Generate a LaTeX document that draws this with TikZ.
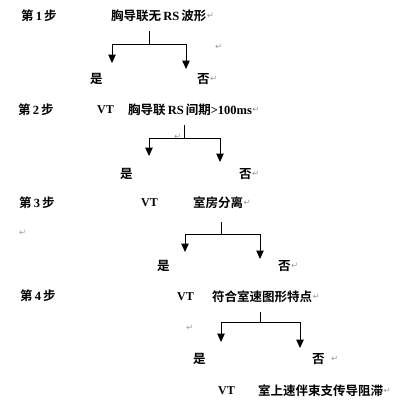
\documentclass[tikz,border=0pt]{standalone}
\usepackage{fontspec}
\setmainfont{Liberation Serif}
\newfontfamily\cjk{Noto Sans CJK SC Bold}
\newfontfamily\sym{DejaVu Sans}
\usetikzlibrary{arrows.meta}
\begin{document}
\begin{tikzpicture}[x=1pt,y=-1pt,
  txt/.style={anchor=west,inner sep=0pt,font=\fontsize{12.5}{15}\selectfont\cjk},
  lat/.style={anchor=west,inner sep=0pt,font=\fontsize{12}{14}\selectfont\bfseries},
  ret/.style={anchor=west,inner sep=0pt,text=black!40,font=\fontsize{8.5}{9}\selectfont\sym},
  line/.style={line width=1pt,black},
  arr/.style={line width=1pt,black,-{Triangle[length=8.5pt,width=7.5pt]}}]
\useasboundingbox (0,0) rectangle (406,405);
% step 1
\node[txt] (s1) at (21,16) {第\,\textrm{\bfseries 1}\,步};
\node[txt] (t1) at (111,16) {胸导联无\,{\rmfamily\bfseries RS}\,波形};
\node[ret] (r1a) at (t1.east) {↵};
\coordinate (a1) at (149,31);
\coordinate (j1) at (149,44);
\coordinate (l1) at (112,44);
\coordinate (rr1) at (186,44);
\coordinate (lt1) at (112,63);
\coordinate (rt1) at (186,69);
\draw[line] (a1) -- (j1);
\draw[line] (l1) -- (rr1);
\draw[arr] (l1) -- (lt1);
\draw[arr] (rr1) -- (rt1);
\node[ret] (r1b) at (215,47) {↵};
\node[txt] (y1) at (90,79) {是};
\node[txt] (n1) at (197,79) {否};
\node[ret] (r1c) at (n1.east) {↵};
% step 2
\node[txt] (s2) at (18,110) {第\,\textrm{\bfseries 2}\,步};
\node[lat] (v2) at (97,110) {VT};
\node[txt] (t2) at (128,110) {胸导联\,{\rmfamily\bfseries RS}\,间期{\rmfamily\bfseries >100ms}};
\node[ret] (r2a) at (t2.east) {↵};
\coordinate (a2) at (184,125);
\coordinate (j2) at (184,138);
\coordinate (l2) at (149,138);
\coordinate (rr2) at (220,138);
\coordinate (lt2) at (149,156);
\coordinate (rt2) at (220,162);
\draw[line] (a2) -- (j2);
\draw[line] (l2) -- (rr2);
\draw[arr] (l2) -- (lt2);
\draw[arr] (rr2) -- (rt2);
\node[ret] (r2b) at (174,137) {↵};
\node[txt] (y2) at (120,174) {是};
\node[txt] (n2) at (239,174) {否};
\node[ret] (r2c) at (n2.east) {↵};
% step 3
\node[txt] (s3) at (19,203) {第\,\textrm{\bfseries 3}\,步};
\node[lat] (v3) at (141,203) {VT};
\node[txt] (t3) at (193,203) {室房分离};
\node[ret] (r3a) at (t3.east) {↵};
\node[ret] (r3b) at (19,233) {↵};
\coordinate (a3) at (221,222);
\coordinate (j3) at (221,234);
\coordinate (l3) at (185,234);
\coordinate (rr3) at (260,234);
\coordinate (lt3) at (185,252);
\coordinate (rt3) at (260,259);
\draw[line] (a3) -- (j3);
\draw[line] (l3) -- (rr3);
\draw[arr] (l3) -- (lt3);
\draw[arr] (rr3) -- (rt3);
\node[txt] (y3) at (157,266) {是};
\node[txt] (n3) at (278,266) {否};
\node[ret] (r3c) at (n3.east) {↵};
% step 4
\node[txt] (s4) at (20,296) {第\,\textrm{\bfseries 4}\,步};
\node[lat] (v4) at (177,297) {VT};
\node[txt] (t4) at (212,297) {符合室速图形特点};
\node[ret] (r4a) at (t4.east) {↵};
\coordinate (a4) at (260,312);
\coordinate (j4) at (260,322);
\coordinate (l4) at (221,322);
\coordinate (rr4) at (300,322);
\coordinate (lt4) at (221,342);
\coordinate (rt4) at (300,348);
\draw[line] (a4) -- (j4);
\draw[line] (l4) -- (rr4);
\draw[arr] (l4) -- (lt4);
\draw[arr] (rr4) -- (rt4);
\node[ret] (r4b) at (186,328) {↵};
\node[txt] (y4) at (193,359) {是};
\node[txt] (n4) at (312,359) {否};
\node[ret] (r4c) at ([xshift=6pt]n4.east) {↵};
% result
\node[lat] (v5) at (218,391) {VT};
\node[txt] (t5) at (258,391) {室上速伴束支传导阻滞};
\node[ret] (r5a) at (t5.east) {↵};
\end{tikzpicture}
\end{document}
